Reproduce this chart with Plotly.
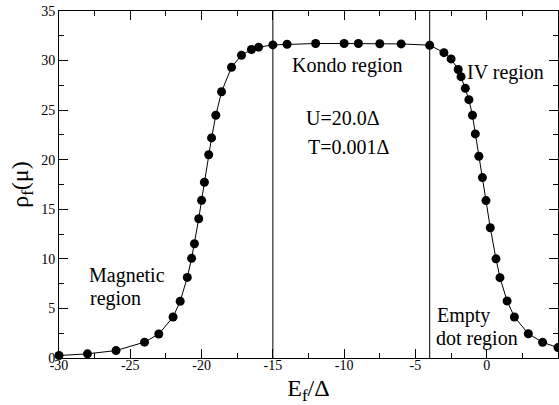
import plotly.graph_objects as go

# Data
ef = [-30, -28, -26, -24, -23, -22, -21.5, -21, -20.7, -20.5, -20.2, -20, -19.8, -19.5,
      -19.3, -19, -18.6, -17.9, -17.2, -16.5, -16, -15, -14, -12, -10, -9, -7.5, -6,
      -4, -3, -2.5, -2, -1.8, -1.5, -1.25, -1, -0.8, -0.55, -0.3, -0.05, 0.25, 0.65,
      0.93, 1.43, 1.94, 2.92, 3.92, 5]
rho = [0.25, 0.42, 0.75, 1.6, 2.42, 4.13, 5.72, 8.13, 10.05, 11.52, 14.04, 15.9, 17.73, 20.5,
       22.2, 24.48, 26.85, 29.33, 30.54, 31.12, 31.35, 31.58, 31.65, 31.72, 31.72, 31.72, 31.7, 31.68,
       31.55, 30.8, 30.17, 29.1, 28.38, 27.2, 26.06, 24.48, 22.6, 20.35, 18.2, 15.88, 13.14, 10.0,
       8.1, 5.75, 4.14, 2.45, 1.58, 1.05]

region_bounds = [-15, -4]

x_tick_vals = [-30, -25, -20, -15, -10, -5, 0, 5]
x_tick_labels = ["-30", "-25", "-20", "-15", "-10", "-5", "0", "5"]
y_tick_vals = [0, 5, 10, 15, 20, 25, 30, 35]
y_tick_labels = ["0", "5", "10", "15", "20", "25", "30", "35"]

labels = ["Kondo region", "U=20.0\u0394", "T=0.001\u0394", "IV region",
          "Magnetic", "region", "Empty", "dot region"]
label_x = [-9.76, -10.09, -9.66, -1.49, -28.07, -27.96, -3.66, -3.73]
label_y = [29.54, 24.2, 21.3, 28.8, 8.37, 6.0, 4.33, 1.99]
label_anchor = ["center", "center", "center", "left", "left", "left", "left", "left"]

FONT = "Liberation Serif"

fig = go.Figure()
fig.add_trace(go.Scatter(
    x=ef, y=rho, mode="lines+markers",
    line=dict(color="black", width=1),
    marker=dict(color="black", size=9, symbol="circle"),
    cliponaxis=False, showlegend=False,
))

for xb in region_bounds:
    fig.add_shape(type="line", xref="x", yref="y", x0=xb, x1=xb, y0=0, y1=35,
                  line=dict(color="black", width=1))

for t, x, y, a in zip(labels, label_x, label_y, label_anchor):
    fig.add_annotation(x=x, y=y, xref="x", yref="y", text=t, showarrow=False,
                       xanchor=a, yanchor="middle", align="left",
                       font=dict(family=FONT, size=20, color="black"))

axis_common = dict(
    showline=True, linecolor="black", linewidth=1, mirror="allticks",
    ticks="inside", ticklen=9, tickwidth=1, tickcolor="black",
    showgrid=False, zeroline=False,
    tickfont=dict(family=FONT, size=14, color="black"),
)

fig.update_xaxes(range=[-30, 5], tickvals=x_tick_vals, ticktext=x_tick_labels,
                 ticklabelstandoff=-6,
                 minor=dict(dtick=2.5, tick0=0, ticks="inside", ticklen=5, tickcolor="black", showgrid=False),
                 title=dict(text="E<sub>f</sub>/\u0394", font=dict(family=FONT, size=24, color="black"), standoff=12),
                 **axis_common)
fig.update_yaxes(range=[0, 35], tickvals=y_tick_vals, ticktext=y_tick_labels,
                 minor=dict(dtick=2.5, tick0=0, ticks="inside", ticklen=5, tickcolor="black", showgrid=False),
                 title=dict(text="\u03c1<sub>f</sub>(\u03bc)", font=dict(family=FONT, size=24, color="black"), standoff=5),
                 **axis_common)

fig.update_layout(
    width=559, height=405,
    margin=dict(l=59, r=1, t=11, b=47, autoexpand=False),
    plot_bgcolor="white", paper_bgcolor="white",
)

fig.write_html("out.html")
